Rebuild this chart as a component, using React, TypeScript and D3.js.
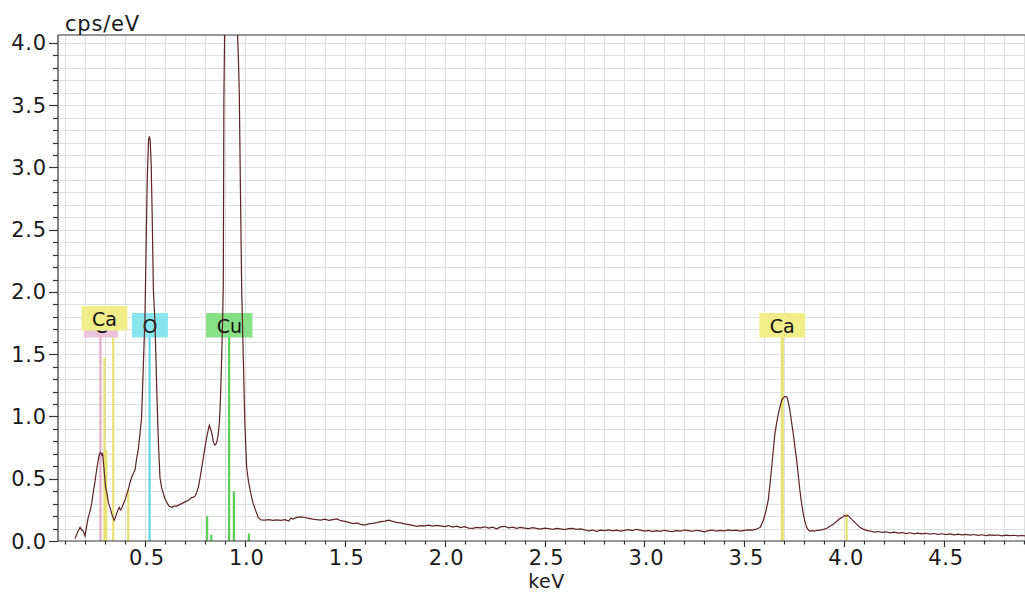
import React from 'react';
import * as d3 from 'd3';

// spectrum, [keV, cps/eV]
const spectrumLow: [number, number][] = [
  [0.150, 0.02], [0.160, 0.06], [0.175, 0.11], [0.183, 0.09], [0.191, 0.08], [0.200, 0.04],
  [0.208, 0.12], [0.216, 0.19], [0.225, 0.24], [0.233, 0.30], [0.242, 0.40], [0.250, 0.48],
  [0.258, 0.57], [0.266, 0.65], [0.272, 0.70], [0.278, 0.71], [0.284, 0.69], [0.288, 0.70],
  [0.296, 0.56], [0.303, 0.43], [0.310, 0.38], [0.318, 0.30], [0.325, 0.27], [0.335, 0.21],
  [0.346, 0.165], [0.352, 0.19], [0.358, 0.22], [0.365, 0.25], [0.371, 0.27], [0.377, 0.25],
  [0.383, 0.26], [0.392, 0.30], [0.400, 0.33], [0.408, 0.37], [0.416, 0.41], [0.425, 0.47],
  [0.433, 0.51], [0.441, 0.54], [0.450, 0.57], [0.458, 0.66], [0.466, 0.73], [0.475, 0.86],
  [0.483, 0.99], [0.491, 1.37], [0.500, 1.80], [0.506, 2.40], [0.512, 2.95], [0.518, 3.22],
  [0.522, 3.25], [0.526, 3.22], [0.531, 3.02], [0.536, 2.62], [0.542, 2.02], [0.550, 1.75],
  [0.559, 1.21], [0.567, 0.80], [0.575, 0.51], [0.583, 0.43], [0.592, 0.38], [0.600, 0.34],
  [0.609, 0.31], [0.620, 0.28], [0.634, 0.27], [0.645, 0.28], [0.659, 0.28], [0.670, 0.29],
  [0.684, 0.30], [0.696, 0.31], [0.709, 0.32], [0.720, 0.33], [0.734, 0.35], [0.742, 0.35],
  [0.750, 0.36], [0.759, 0.39], [0.767, 0.43], [0.775, 0.50], [0.784, 0.59], [0.792, 0.67],
  [0.800, 0.75], [0.811, 0.85], [0.822, 0.93], [0.828, 0.90], [0.834, 0.87], [0.842, 0.80],
  [0.850, 0.77], [0.855, 0.78], [0.859, 0.79], [0.866, 0.85], [0.872, 0.94], [0.878, 1.15],
  [0.884, 1.48], [0.889, 1.80], [0.892, 2.05], [0.895, 3.55], [0.900, 4.30], [0.915, 5.60],
  [0.930, 6.10], [0.945, 5.60], [0.958, 4.50], [0.964, 4.05], [0.968, 3.85], [0.972, 3.60],
  [0.978, 2.80], [0.984, 2.02], [0.992, 1.48], [1.000, 0.94], [1.009, 0.59], [1.018, 0.48],
  [1.026, 0.41], [1.034, 0.35], [1.042, 0.30], [1.055, 0.24], [1.067, 0.19], [1.080, 0.17],
];

const spectrumMid: [number, number][] = [
  [1.10, 0.168], [1.12, 0.172], [1.14, 0.166], [1.16, 0.170], [1.18, 0.165], [1.20, 0.171],
  [1.22, 0.160], [1.23, 0.185], [1.24, 0.176], [1.26, 0.190], [1.28, 0.194], [1.30, 0.189],
  [1.32, 0.182], [1.34, 0.175], [1.36, 0.171], [1.38, 0.168], [1.40, 0.176], [1.42, 0.166],
  [1.44, 0.172], [1.46, 0.178], [1.48, 0.163], [1.50, 0.158], [1.52, 0.150], [1.54, 0.140],
  [1.56, 0.145], [1.58, 0.134], [1.60, 0.128], [1.62, 0.137], [1.64, 0.142], [1.66, 0.148],
  [1.68, 0.155], [1.70, 0.160], [1.72, 0.168], [1.74, 0.158], [1.76, 0.150], [1.78, 0.146],
  [1.80, 0.138], [1.82, 0.132], [1.84, 0.126], [1.86, 0.118], [1.88, 0.124], [1.90, 0.121],
  [1.92, 0.128], [1.94, 0.119], [1.96, 0.125], [1.98, 0.122], [2.00, 0.116], [2.02, 0.124],
  [2.04, 0.112], [2.06, 0.119], [2.08, 0.108], [2.10, 0.115], [2.12, 0.104], [2.14, 0.101],
  [2.16, 0.110], [2.18, 0.106], [2.20, 0.114], [2.22, 0.103], [2.24, 0.111], [2.26, 0.098],
  [2.28, 0.113], [2.30, 0.118], [2.32, 0.106], [2.34, 0.112], [2.36, 0.102], [2.38, 0.109],
  [2.40, 0.104], [2.42, 0.099], [2.44, 0.107], [2.46, 0.101], [2.48, 0.096], [2.50, 0.103],
  [2.52, 0.099], [2.54, 0.094], [2.56, 0.101], [2.58, 0.097], [2.60, 0.092], [2.62, 0.099],
  [2.64, 0.102], [2.66, 0.094], [2.68, 0.097], [2.70, 0.090], [2.72, 0.081], [2.74, 0.088],
  [2.76, 0.078], [2.78, 0.087], [2.80, 0.083], [2.82, 0.090], [2.84, 0.082], [2.86, 0.088],
  [2.88, 0.080], [2.90, 0.085], [2.92, 0.091], [2.94, 0.084], [2.96, 0.094], [2.98, 0.087],
  [3.00, 0.079], [3.02, 0.085], [3.04, 0.076], [3.06, 0.083], [3.08, 0.078], [3.10, 0.086],
  [3.12, 0.080], [3.14, 0.075], [3.16, 0.083], [3.18, 0.079], [3.20, 0.088], [3.22, 0.084],
  [3.24, 0.078], [3.26, 0.086], [3.28, 0.081], [3.30, 0.074], [3.32, 0.083], [3.34, 0.088],
  [3.36, 0.079], [3.38, 0.085], [3.40, 0.081], [3.42, 0.089], [3.44, 0.083], [3.46, 0.087],
  [3.48, 0.080], [3.50, 0.086], [3.52, 0.090], [3.54, 0.088], [3.56, 0.095], [3.58, 0.110],
];

const spectrumHigh: [number, number][] = [
  [3.595, 0.165], [3.608, 0.24], [3.620, 0.33], [3.628, 0.45], [3.637, 0.59], [3.645, 0.73],
  [3.653, 0.86], [3.662, 0.95], [3.670, 1.02], [3.679, 1.08], [3.687, 1.13], [3.695, 1.15],
  [3.703, 1.16], [3.710, 1.16], [3.717, 1.14], [3.722, 1.10], [3.728, 1.05], [3.736, 0.96],
  [3.745, 0.86], [3.753, 0.76], [3.762, 0.65], [3.770, 0.53], [3.778, 0.41], [3.786, 0.31],
  [3.795, 0.22], [3.803, 0.16], [3.812, 0.11], [3.820, 0.09], [3.828, 0.08], [3.840, 0.083],
  [3.852, 0.079], [3.864, 0.086], [3.878, 0.085], [3.890, 0.092], [3.900, 0.095], [3.912, 0.10],
  [3.928, 0.118], [3.945, 0.135], [3.960, 0.155], [3.978, 0.18], [3.992, 0.19], [4.000, 0.205],
  [4.008, 0.200], [4.018, 0.205], [4.028, 0.19], [4.040, 0.17], [4.053, 0.15], [4.066, 0.13],
  [4.078, 0.11], [4.095, 0.095], [4.112, 0.085], [4.13, 0.080], [4.15, 0.072], [4.17, 0.076],
  [4.19, 0.069], [4.21, 0.074], [4.23, 0.066], [4.25, 0.071], [4.27, 0.063], [4.29, 0.068],
  [4.31, 0.060], [4.33, 0.066], [4.35, 0.058], [4.37, 0.063], [4.39, 0.057], [4.41, 0.062],
  [4.43, 0.055], [4.45, 0.060], [4.47, 0.054], [4.49, 0.058], [4.51, 0.052], [4.53, 0.057],
  [4.55, 0.050], [4.57, 0.055], [4.59, 0.049], [4.61, 0.053], [4.63, 0.047], [4.65, 0.052],
  [4.67, 0.046], [4.69, 0.050], [4.71, 0.044], [4.73, 0.049], [4.75, 0.045], [4.77, 0.048],
  [4.79, 0.042], [4.81, 0.047], [4.83, 0.043], [4.85, 0.046], [4.87, 0.041], [4.89, 0.044],
  [4.91, 0.040],
];

// element marker lines: [element, keV, height in cps/eV]
const markerLines: [string, number, number][] = [
  ['C', 0.277, 1.64],
  ['Ca', 0.297, 1.47],
  ['Ca', 0.306, 0.73],
  ['Ca', 0.341, 1.64],
  ['Ca', 0.416, 0.42],
  ['O', 0.523, 1.64],
  ['Cu', 0.811, 0.20],
  ['Cu', 0.832, 0.05],
  ['Cu', 0.921, 1.64],
  ['Cu', 0.945, 0.40],
  ['Cu', 1.020, 0.06],
  ['Ca', 3.690, 1.64],
  ['Ca', 4.012, 0.22],
];

// element labels: [element, keV anchor, raised above a neighbour]
const elementLabels: [string, number, boolean][] = [
  ['C', 0.280, false],
  ['Ca', 0.297, true],
  ['O', 0.525, false],
  ['Cu', 0.922, false],
  ['Ca', 3.690, false],
];

const lineColors: Record<string, string> = { C: '#e2aacb', Ca: '#e6e272', O: '#62d6e6', Cu: '#56d156' };
const boxColors: Record<string, string> = { C: '#ecc3dd', Ca: '#f1ee8a', O: '#8ae6ee', Cu: '#86e086' };

const xLabels = [0.5, 1.0, 1.5, 2.0, 2.5, 3.0, 3.5, 4.0, 4.5];
const yLabels = [0, 0.5, 1.0, 1.5, 2.0, 2.5, 3.0, 3.5, 4.0];

const W = 1025;
const H = 593;
const FONT = '"DejaVu Sans", Verdana, sans-serif';

const measure = (() => {
  const ctx = document.createElement('canvas').getContext('2d');
  return (t: string, size: number) => {
    if (!ctx) return t.length * size * 0.65;
    ctx.font = `${size}px "DejaVu Sans"`;
    return ctx.measureText(t).width;
  };
})();

const App = () => {
  const left = 58, right = W, top = 35, bottom = 541;
  const x = d3.scaleLinear().domain([0.0646, 4.905]).range([left, right]);
  const y = d3.scaleLinear().domain([0, 4.064]).range([bottom, top]);

  const xTicks = d3.range(1, 50).map(i => i / 10);
  const yTicks = d3.range(0, 41).map(i => i / 10);
  const line = d3.line<[number, number]>().x(d => x(d[0])).y(d => y(d[1]));
  const spectrum = [...spectrumLow, ...spectrumMid, ...spectrumHigh];

  return (
    <div style={{ position: 'fixed', left: 0, top: 0, background: '#fff' }}>
      <svg width={W} height={H} style={{ display: 'block', fontFamily: FONT }}>
        <defs>
          <clipPath id="plot">
            <rect x={left} y={top} width={right - left} height={bottom - top} />
          </clipPath>
        </defs>
        <rect width={W} height={H} fill="#fff" />

        {/* grid */}
        <g stroke="#dedede" strokeWidth={1}>
          {xTicks.map(t => (
            <line key={'gx' + t} x1={Math.round(x(t)) + 0.5} x2={Math.round(x(t)) + 0.5} y1={top} y2={bottom} />
          ))}
          {yTicks.slice(1).map(t => (
            <line key={'gy' + t} x1={left} x2={right} y1={Math.round(y(t)) + 0.5} y2={Math.round(y(t)) + 0.5} />
          ))}
        </g>

        {/* marker lines */}
        {markerLines.map(([el, e, h], i) => (
          <line key={'m' + i} x1={x(e)} x2={x(e)} y1={bottom} y2={y(h)}
            stroke={lineColors[el]} strokeWidth={el === 'Ca' && e > 3 && h > 1 ? 3 : 2.2} />
        ))}

        {/* element labels */}
        {elementLabels.map(([el, e, raised], i) => {
          const bw = measure(el, 19) + 21;
          const by = raised ? 306 : 313;
          return (
            <g key={'l' + i}>
              <rect x={x(e) - bw / 2} y={by} width={bw} height={24.5} fill={boxColors[el]} />
              <text x={x(e)} y={by + 20} textAnchor="middle" fontSize={19} fill="#111">{el}</text>
            </g>
          );
        })}

        {/* spectrum */}
        <path d={line(spectrum) || ''} fill="none" stroke="#5e2326" strokeWidth={1.2} clipPath="url(#plot)" />

        {/* axes */}
        <g stroke="#333" strokeWidth={1.2} fill="none">
          <line x1={left} x2={right} y1={top} y2={top} />
          <line x1={left} x2={left} y1={top} y2={bottom} />
          <line x1={left} x2={right} y1={bottom} y2={bottom} />
          {xTicks.map(t => {
            const major = Math.abs(t * 2 - Math.round(t * 2)) < 1e-6;
            return <line key={'tx' + t} x1={Math.round(x(t)) + 0.5} x2={Math.round(x(t)) + 0.5} y1={bottom} y2={bottom + (major ? 6 : 3.5)} />;
          })}
          {yTicks.map(t => {
            const major = Math.abs(t * 2 - Math.round(t * 2)) < 1e-6;
            return <line key={'ty' + t} x1={left - (major ? 9 : 5)} x2={left} y1={Math.round(y(t)) + 0.5} y2={Math.round(y(t)) + 0.5} />;
          })}
        </g>

        {/* tick labels */}
        <g fontSize={21} fill="#1a1a1a" letterSpacing={0.8}>
          {xLabels.map(t => (
            <text key={'lx' + t} x={x(t) + 2} y={565} textAnchor="middle">{t.toFixed(1)}</text>
          ))}
          {yLabels.map(t => (
            <text key={'ly' + t} x={47} y={y(t) + 7.5} textAnchor="end">{t.toFixed(1)}</text>
          ))}
        </g>
        <text x={x(2.5) + 2} y={588} textAnchor="middle" fontSize={19} fill="#1a1a1a" letterSpacing={0.5}>keV</text>
        <text x={65} y={31} fontSize={21} fill="#1a1a1a" letterSpacing={0.8}>cps/eV</text>
      </svg>
    </div>
  );
};

export default App;
